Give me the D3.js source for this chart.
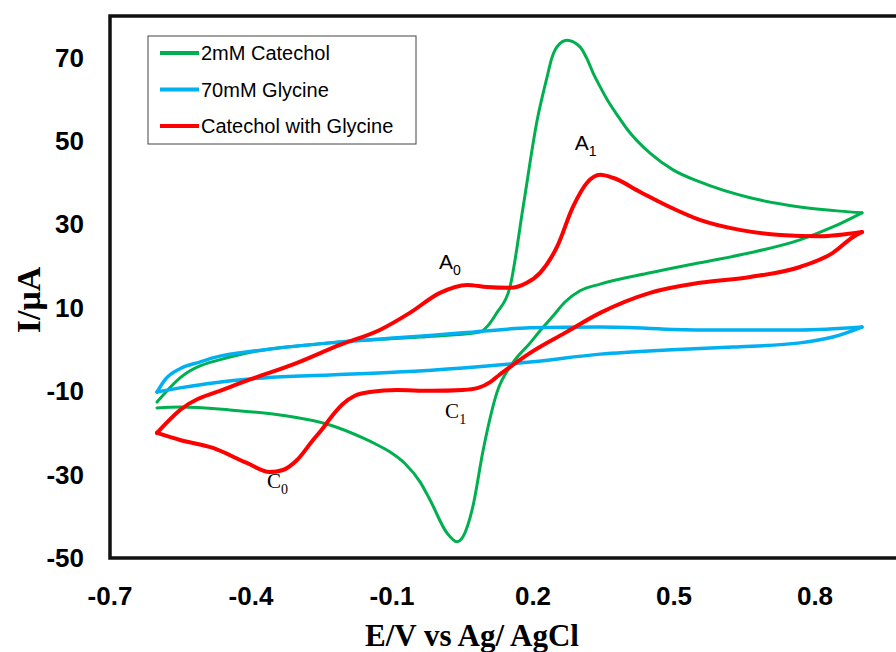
<!DOCTYPE html>
<html>
<head>
<meta charset="utf-8">
<script src="https://cdn.jsdelivr.net/npm/d3@7"></script>
<style>
  body { margin: 0; background: #fff; }
  svg { display: block; }
  .tick-label { font-family: "Liberation Sans", Arial, sans-serif; font-weight: bold; font-size: 26px; fill: #000; }
  .axis-title { font-family: "Liberation Serif", "Times New Roman", serif; font-weight: bold; fill: #000; }
  .legend-text { font-family: "Liberation Sans", Arial, sans-serif; font-size: 20px; fill: #000; }
</style>
</head>
<body>
<svg id="chart" width="896" height="652"></svg>
<script>
// 2mM Catechol (scan -0.6 -> 0.9 -> -0.6 V)
const catecholE = [-0.600, -0.551, -0.445, -0.232, -0.040, 0.087, 0.104, 0.123, 0.151, 0.179, 0.209, 0.230, 0.240, 0.251, 0.272, 0.300, 0.315, 0.328, 0.343, 0.357, 0.379, 0.400, 0.449, 0.498, 0.555, 0.662, 0.768, 0.853, 0.900,
  0.838, 0.768, 0.662, 0.555, 0.449, 0.343, 0.300, 0.268, 0.243, 0.215, 0.194, 0.157, 0.123, 0.094, 0.072, 0.051, 0.038, 0.017, -0.019, -0.040, -0.072, -0.104, -0.136, -0.162, -0.232, -0.338, -0.445, -0.551, -0.600];
const catecholI = [-12.6, -6.8, -1.8, 1.6, 3.0, 4.2, 5.7, 8.8, 15.0, 34.2, 55.1, 65.4, 69.9, 72.6, 74.2, 72.6, 69.7, 66.3, 63.0, 60.1, 56.3, 52.9, 47.1, 43.1, 40.2, 36.4, 34.2, 33.2, 32.8,
  29.4, 26.3, 23.2, 20.8, 18.4, 15.7, 14.1, 11.4, 8.1, 4.5, 1.6, -3.2, -10.4, -24.1, -37.7, -44.9, -46.1, -44.0, -36.1, -31.8, -27.4, -24.6, -22.6, -21.2, -18.1, -15.7, -14.5, -13.8, -14.0];

// 70mM Glycine
const glycineE = [-0.600, -0.581, -0.551, -0.509, -0.481, -0.374, -0.232, -0.089, 0.051, 0.194, 0.343, 0.555, 0.768, 0.900,
  0.838, 0.768, 0.626, 0.485, 0.343, 0.194, 0.051, -0.089, -0.232, -0.374, -0.481, -0.551, -0.600];
const glycineI = [-10.2, -7.0, -4.6, -3.0, -2.0, -0.1, 1.6, 2.8, 4.0, 5.2, 5.4, 4.7, 4.7, 5.4,
  3.0, 1.6, 0.6, -0.1, -1.1, -3.0, -4.4, -5.4, -6.1, -6.8, -8.0, -9.2, -10.2];

// Catechol with Glycine
const mixE = [-0.600, -0.551, -0.445, -0.302, -0.211, -0.126, -0.062, 0.002, 0.060, 0.102, 0.151, 0.187, 0.215, 0.251, 0.285, 0.315, 0.343, 0.370, 0.428, 0.491, 0.555, 0.640, 0.726, 0.811, 0.900,
  0.881, 0.838, 0.768, 0.662, 0.555, 0.449, 0.343, 0.268, 0.194, 0.157, 0.128, 0.109, 0.083, 0.051, -0.019, -0.089, -0.147, -0.179, -0.204, -0.226, -0.250, -0.268, -0.302, -0.332, -0.360, -0.409, -0.481, -0.551, -0.600];
const mixI = [-20.0, -14.5, -9.0, -3.2, 1.1, 4.7, 8.8, 13.6, 15.5, 15.0, 14.8, 16.0, 18.4, 24.6, 34.2, 40.0, 41.9, 41.2, 37.8, 34.2, 31.1, 28.7, 27.5, 27.2, 28.2,
  27.0, 23.2, 19.8, 17.4, 16.0, 13.6, 8.8, 4.0, -0.8, -3.7, -6.1, -7.8, -9.2, -9.7, -9.9, -9.7, -10.2, -11.1, -13.0, -15.7, -19.3, -21.7, -26.5, -28.9, -29.4, -27.2, -23.6, -21.7, -20.0];

const xTicks = [-0.7, -0.4, -0.1, 0.2, 0.5, 0.8];
const yTicks = [-50, -30, -10, 10, 30, 50, 70];

const seriesNames = ["2mM Catechol", "70mM Glycine", "Catechol with Glycine"];
const seriesColors = ["#00B050", "#00B0F0", "#FF0000"];

const peakLabels = [
  { letter: "A", sub: "1", e: 0.289, i: 47.9, serif: false },
  { letter: "A", sub: "0", e: 0.000, i: 19.3, serif: false },
  { letter: "C", sub: "1", e: 0.013, i: -16.4, serif: true },
  { letter: "C", sub: "0", e: -0.366, i: -33.2, serif: true }
];

const svg = d3.select("#chart");

const x = d3.scaleLinear().domain([-0.7, 1.0]).range([110, 909]);
const y = d3.scaleLinear().domain([-50, 80]).range([558, 16]);

// plot frame (right edge falls outside the window)
svg.append("rect")
  .attr("x", x(-0.7)).attr("y", y(80))
  .attr("width", x(1.0) - x(-0.7)).attr("height", y(-50) - y(80))
  .attr("fill", "none").attr("stroke", "#111").attr("stroke-width", 3.5);

// tick labels
svg.selectAll(".xt").data(xTicks).join("text")
  .attr("class", "tick-label")
  .attr("x", d => x(d)).attr("y", 605)
  .attr("text-anchor", "middle")
  .text(d => d.toFixed(1));

svg.selectAll(".yt").data(yTicks).join("text")
  .attr("class", "tick-label")
  .attr("x", 84).attr("y", d => y(d) + 9)
  .attr("text-anchor", "end")
  .text(d => d);

// axis titles
svg.append("text").attr("class", "axis-title")
  .attr("x", 472).attr("y", 646).attr("text-anchor", "middle")
  .attr("font-size", 31)
  .text("E/V vs Ag/ AgCl");

svg.append("text").attr("class", "axis-title")
  .attr("transform", "translate(40,300) rotate(-90)")
  .attr("text-anchor", "middle")
  .attr("font-size", 34)
  .text("I/μA");

// curves: each sweep drawn separately so the vertices stay sharp
const line = d3.line().x(d => x(d[0])).y(d => y(d[1])).curve(d3.curveMonotoneX);
const series = [
  { e: catecholE, i: catecholI, w: 3 },
  { e: glycineE, i: glycineI, w: 3.5 },
  { e: mixE, i: mixI, w: 4 }
];
series.forEach((s, k) => {
  const pts = d3.zip(s.e, s.i);
  const v = d3.maxIndex(s.e);
  const sweeps = [pts.slice(0, v + 1), pts.slice(v).reverse()];
  sweeps.forEach(sw => {
    svg.append("path")
      .datum(sw)
      .attr("d", line)
      .attr("fill", "none")
      .attr("stroke", seriesColors[k])
      .attr("stroke-width", s.w)
      .attr("stroke-linecap", "round")
      .attr("stroke-linejoin", "round");
  });
});

// peak labels
peakLabels.forEach(p => {
  const t = svg.append("text")
    .attr("x", x(p.e)).attr("y", y(p.i))
    .attr("font-family", p.serif ? "'Liberation Serif', serif" : "'Liberation Sans', Arial, sans-serif")
    .attr("font-size", 21);
  t.append("tspan").text(p.letter);
  t.append("tspan").attr("dy", 6).attr("font-size", 14).text(p.sub);
});

// legend
const lg = svg.append("g");
lg.append("rect").attr("x", 148).attr("y", 36).attr("width", 268).attr("height", 108)
  .attr("fill", "#fff").attr("stroke", "#444").attr("stroke-width", 1);
seriesNames.forEach((name, k) => {
  const yy = 53 + k * 36.5;
  lg.append("line").attr("x1", 160).attr("x2", 199).attr("y1", yy).attr("y2", yy)
    .attr("stroke", seriesColors[k]).attr("stroke-width", 4);
  lg.append("text").attr("class", "legend-text")
    .attr("x", 201).attr("y", yy + 7).text(name);
});
</script>
</body>
</html>
